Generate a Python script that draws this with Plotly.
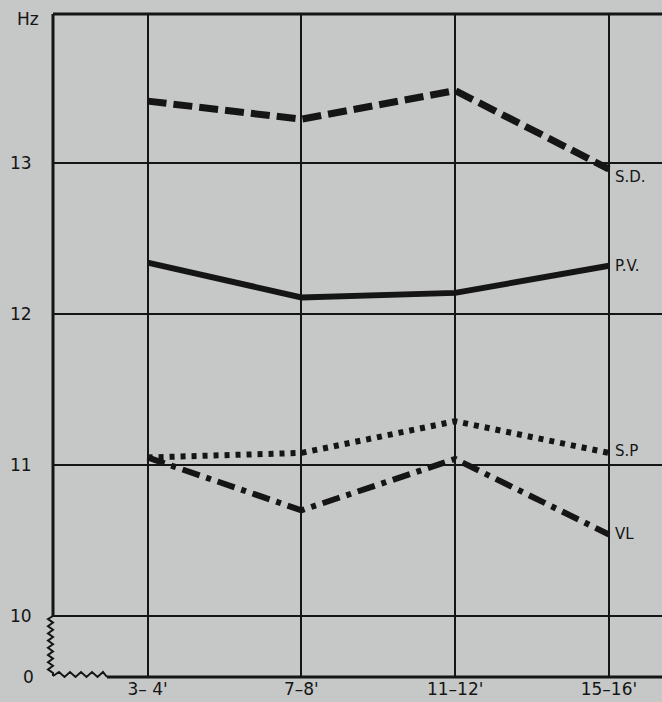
import plotly.graph_objects as go

# Age groups (x categories) and mean frequencies in Hz per recording site
ages = ["3– 4'", "7–8'", "11–12'", "15–16'"]
sd = [13.41, 13.29, 13.48, 12.96]
pv = [12.34, 12.11, 12.14, 12.32]
sp = [11.05, 11.08, 11.29, 11.08]
vl = [11.05, 10.70, 11.04, 10.54]

names = ["S.D.", "P.V.", "S.P", "VL"]
y_ticks = [10, 11, 12, 13]

INK = "#151515"
BG = "#c5c8c7"
FONT = "DejaVu Sans"

W, H = 662, 702
ML, MR, MT, MB = 53, 0, 14, 25
PW, PH = W - ML - MR, H - MT - MB

xpos = [1, 2, 3, 4]
X_RANGE = [0.385, 4.345]
Y_RANGE = [9.596, 13.987]

fig = go.Figure()

styles = [
    (sd, dict(color=INK, width=7, dash="19px,7px")),
    (pv, dict(color=INK, width=6)),
    (sp, dict(color=INK, width=6, dash="5px,6px")),
    (vl, dict(color=INK, width=6, dash="18px,7px,5px,7px")),
]
for (vals, line), nm in zip(styles, names):
    fig.add_trace(go.Scatter(x=xpos, y=vals, mode="lines", line=line,
                             name=nm, showlegend=False, hoverinfo="skip"))

# Series labels at the right-hand ends of the curves
label_shift = {"S.D.": -8, "P.V.": 0, "S.P": 2, "VL": 0}
for (vals, _), nm in zip(styles, names):
    fig.add_annotation(x=xpos[-1], y=vals[-1], xref="x", yref="y", text=nm,
                       showarrow=False, xanchor="left", yanchor="middle",
                       xshift=4, yshift=label_shift[nm],
                       font=dict(family=FONT, size=15, color=INK))

# Y-axis labels, including the broken-axis zero and unit
for v in y_ticks:
    fig.add_annotation(x=0, y=v, xref="paper", yref="y", text=str(v),
                       showarrow=False, xanchor="right", yanchor="middle",
                       xshift=-19, font=dict(family=FONT, size=17, color=INK))
fig.add_annotation(x=0, y=0, xref="paper", yref="paper", text="0",
                   showarrow=False, xanchor="right", yanchor="middle",
                   xshift=-17, font=dict(family=FONT, size=17, color=INK))
fig.add_annotation(x=0, y=1, xref="paper", yref="paper", text="Hz",
                   showarrow=False, xanchor="right", yanchor="middle",
                   xshift=-12, yshift=-5, font=dict(family=FONT, size=17, color=INK))


def px(xp, yp):
    """Pixel position on the page -> paper coordinates."""
    return (xp - ML) / PW, (MT + PH - yp) / PH


def path(points):
    pts = [px(a, b) for a, b in points]
    return "M " + " L ".join(f"{a:.5f},{b:.5f}" for a, b in pts)


# Left spine above the break, top border, bottom axis after the break
y10 = MT + PH * (Y_RANGE[1] - 10) / (Y_RANGE[1] - Y_RANGE[0])
fig.add_shape(type="path", xref="paper", yref="paper",
              path=path([(ML, y10), (ML, MT)]),
              line=dict(color=INK, width=3))
fig.add_shape(type="line", xref="paper", yref="paper", x0=0, x1=1, y0=1, y1=1,
              line=dict(color=INK, width=3))
fig.add_shape(type="path", xref="paper", yref="paper",
              path=path([(107, MT + PH), (W, MT + PH)]),
              line=dict(color=INK, width=3))

# Zig-zag break marks on both axes
vz = [(ML, y10)]
yy, k = y10 + 3, 0
while yy < MT + PH - 2:
    vz.append((ML - 5 if k % 2 == 0 else ML, yy))
    yy += 3.6
    k += 1
vz.append((ML, MT + PH - 1))
fig.add_shape(type="path", xref="paper", yref="paper", path=path(vz),
              line=dict(color=INK, width=2))

hz = [(ML, MT + PH - 1)]
xx, k = ML + 6, 0
while xx < 105:
    hz.append((xx, MT + PH - 5 if k % 2 == 0 else MT + PH))
    xx += 5.5
    k += 1
hz.append((107, MT + PH))
fig.add_shape(type="path", xref="paper", yref="paper", path=path(hz),
              line=dict(color=INK, width=2))

fig.update_layout(
    width=W, height=H,
    margin=dict(l=ML, r=MR, t=MT, b=MB, pad=0),
    paper_bgcolor=BG, plot_bgcolor=BG,
    font=dict(family=FONT, color=INK),
    xaxis=dict(range=X_RANGE, tickvals=xpos, ticktext=ages, showgrid=True,
               gridcolor=INK, gridwidth=2, zeroline=False, showline=False,
               ticks="", tickfont=dict(family=FONT, size=17, color=INK),
               fixedrange=True),
    yaxis=dict(range=Y_RANGE, tickvals=y_ticks, showticklabels=False,
               showgrid=True, gridcolor=INK, gridwidth=2, zeroline=False,
               showline=False, ticks="", fixedrange=True),
)

fig.write_html("out.html")
